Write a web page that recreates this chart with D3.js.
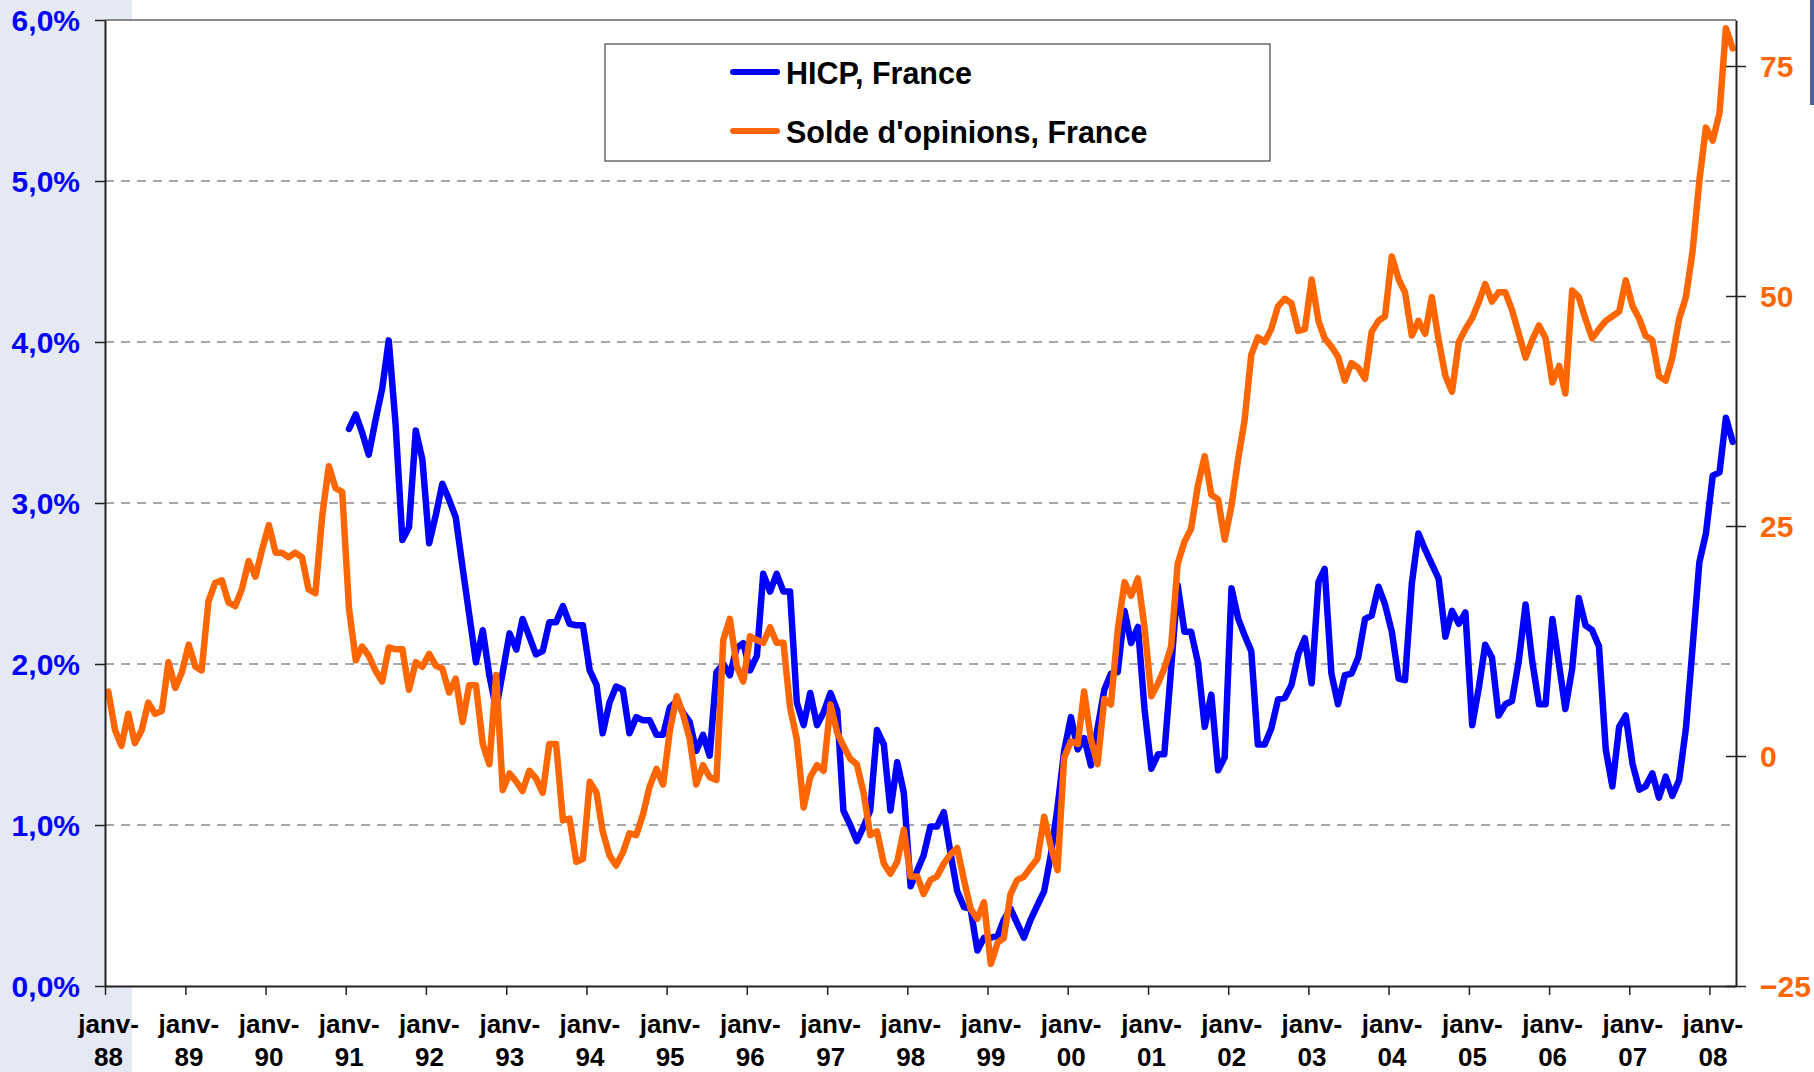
<!DOCTYPE html>
<html>
<head>
<meta charset="utf-8">
<script src="https://cdn.jsdelivr.net/npm/d3@7"></script>
<style>
  body { margin: 0; background: #fff; }
  svg { display: block; font-family: "Liberation Sans", Arial, sans-serif; }
</style>
</head>
<body>
<div id="chart"></div>
<script>
// monthly data, first month = janv-88
const years = d3.range(1988, 2009)

// solde d'opinions (right axis), janv-88 .. avr-08
const solde = [
  7.0, 2.8, 1.1, 4.6, 1.4, 2.8, 5.8, 4.6, 4.9, 10.2, 7.4, 9.1,
  12.1, 9.7, 9.3, 16.8, 18.8, 19.1, 16.7, 16.3, 18.2, 21.2, 19.5, 22.4,
  25.1, 22.1, 22.1, 21.6, 22.1, 21.6, 18.1, 17.7, 26.1, 31.5, 29.1, 28.7,
  16.0, 10.4, 11.9, 10.9, 9.3, 8.1, 11.8, 11.6, 11.6, 7.2, 10.2, 9.7,
  11.1, 9.8, 9.5, 6.9, 8.4, 3.7, 7.7, 7.7, 1.3, -0.9, 8.8, -3.7,
  -1.9, -2.8, -3.8, -1.6, -2.4, -4.0, 1.3, 1.3, -7.0, -6.8, -11.5, -11.2,
  -2.8, -4.0, -8.2, -10.8, -11.9, -10.5, -8.4, -8.6, -6.3, -3.3, -1.4, -3.1,
  2.8, 6.5, 4.6, 1.9, -3.1, -1.0, -2.3, -2.6, 12.6, 14.9, 9.8, 8.1,
  13.0, 12.6, 12.3, 14.0, 12.3, 12.3, 5.3, 1.8, -5.6, -2.3, -1.0, -1.6,
  5.6, 2.5, 1.1, -0.3, -0.9, -4.0, -8.6, -8.2, -11.7, -12.8, -11.5, -8.0,
  -13.1, -13.1, -15.0, -13.5, -13.1, -11.7, -10.7, -10.0, -13.5, -16.6, -17.7, -15.9,
  -22.6, -20.3, -19.8, -15.0, -13.5, -13.1, -12.1, -11.2, -6.6, -9.8, -12.4, -0.2,
  1.6, 1.3, 7.0, 1.8, -0.9, 6.2, 5.6, 13.7, 18.9, 17.4, 19.3, 14.0,
  6.5, 7.9, 9.5, 11.9, 20.9, 23.3, 24.7, 29.4, 32.6, 28.4, 27.9, 23.5,
  27.2, 32.4, 36.4, 43.6, 45.5, 45.0, 46.4, 48.9, 49.7, 49.2, 46.2, 46.4,
  51.8, 47.3, 45.4, 44.5, 43.4, 40.8, 42.7, 42.2, 41.0, 46.1, 47.3, 47.8,
  54.3, 51.8, 50.4, 45.7, 47.3, 45.9, 49.9, 45.2, 41.3, 39.6, 45.0, 46.4,
  47.6, 49.4, 51.3, 49.4, 50.4, 50.4, 48.5, 45.9, 43.3, 45.2, 46.8, 45.4,
  40.6, 42.4, 39.4, 50.6, 49.9, 47.5, 45.4, 46.4, 47.3, 47.8, 48.3, 51.7,
  48.9, 47.5, 45.7, 45.2, 41.3, 40.8, 43.3, 47.5, 49.9, 54.8, 62.5, 68.3,
  66.9, 69.9, 79.1, 76.9
]

// HICP France (left axis, %), janv-91 .. avr-08
const hicpStart = 36
const hicp = [
  3.46, 3.55, 3.44, 3.30, 3.51, 3.71, 4.01, 3.49, 2.77, 2.85, 3.45, 3.27,
  2.75, 2.93, 3.12, 3.02, 2.91, 2.60, 2.31, 2.01, 2.21, 1.93, 1.72, 1.95,
  2.19, 2.09, 2.28, 2.17, 2.06, 2.08, 2.26, 2.26, 2.36, 2.25, 2.24, 2.24,
  1.96, 1.87, 1.57, 1.76, 1.86, 1.84, 1.57, 1.67, 1.65, 1.65, 1.56, 1.56,
  1.73, 1.77, 1.70, 1.64, 1.46, 1.56, 1.43, 1.95, 2.00, 1.93, 2.10, 2.13,
  1.96, 2.05, 2.56, 2.45, 2.56, 2.45, 2.45, 1.76, 1.62, 1.82, 1.62, 1.70,
  1.82, 1.71, 1.09, 1.00, 0.90, 0.99, 1.09, 1.59, 1.50, 1.09, 1.39, 1.20,
  0.62, 0.72, 0.81, 0.99, 0.99, 1.08, 0.83, 0.59, 0.49, 0.48, 0.22, 0.30,
  0.30, 0.31, 0.41, 0.48, 0.39, 0.30, 0.41, 0.50, 0.59, 0.81, 1.11, 1.46,
  1.67, 1.47, 1.54, 1.37, 1.60, 1.84, 1.94, 1.95, 2.33, 2.13, 2.23, 1.72,
  1.35, 1.44, 1.44, 1.97, 2.49, 2.20, 2.20, 2.01, 1.61, 1.81, 1.34, 1.42,
  2.47, 2.28, 2.18, 2.08, 1.50, 1.50, 1.60, 1.78, 1.79, 1.87, 2.06, 2.16,
  1.88, 2.51, 2.59, 1.94, 1.75, 1.93, 1.94, 2.04, 2.28, 2.30, 2.48, 2.37,
  2.20, 1.91, 1.90, 2.50, 2.81, 2.71, 2.62, 2.53, 2.17, 2.33, 2.25, 2.32,
  1.62, 1.86, 2.12, 2.04, 1.68, 1.75, 1.77, 2.02, 2.37, 2.02, 1.75, 1.75,
  2.28, 1.99, 1.72, 1.97, 2.41, 2.24, 2.21, 2.11, 1.47, 1.24, 1.61, 1.68,
  1.38, 1.22, 1.24, 1.32, 1.17, 1.30, 1.18, 1.28, 1.60, 2.10, 2.63, 2.81,
  3.17, 3.19, 3.53, 3.38
]

const leftTicks = [0, 1, 2, 3, 4, 5, 6]
const rightTicks = [-25, 0, 25, 50, 75]
const seriesNames = ['HICP, France', "Solde d'opinions, France"]

const width = 1814, height = 1072
const plot = { left: 105, right: 1736, top: 20, bottom: 986 }
const blue = '#0000ff', orange = '#ff6600'

const svg = d3.select('#chart').append('svg')
  .attr('width', width)
  .attr('height', height)

// slide background strip
svg.append('rect')
  .attr('x', 0).attr('y', 0).attr('width', 132).attr('height', height)
  .attr('fill', '#e4e9f3')
svg.append('rect')
  .attr('x', 1810).attr('y', 0).attr('width', 4).attr('height', 105)
  .attr('fill', '#4d6493')

svg.append('rect')
  .attr('x', plot.left).attr('y', plot.top)
  .attr('width', plot.right - plot.left).attr('height', plot.bottom - plot.top)
  .attr('fill', '#fff')

const monthDate = k => new Date(1988, k, 16)

const x = d3.scaleTime()
  .domain([new Date(1988, 0, 1), new Date(2008, 4, 1)])
  .range([plot.left, plot.right])
const yLeft = d3.scaleLinear().domain([0, 6]).range([plot.bottom, plot.top])
const yRight = d3.scaleLinear().domain([-25, 80]).range([plot.bottom, plot.top])

// grid lines
svg.append('g')
  .selectAll('line')
  .data(leftTicks.filter(d => d > 0 && d < 6))
  .join('line')
    .attr('x1', plot.left).attr('x2', plot.right)
    .attr('y1', d => yLeft(d)).attr('y2', d => yLeft(d))
    .attr('stroke', '#8c8c8c')
    .attr('stroke-width', 1.5)
    .attr('stroke-dasharray', '9,7')

// top border
svg.append('line')
  .attr('x1', plot.left).attr('x2', plot.right)
  .attr('y1', plot.top).attr('y2', plot.top)
  .attr('stroke', '#888').attr('stroke-width', 2)

// series
const lineHicp = d3.line()
  .x((d, i) => x(monthDate(i + hicpStart)))
  .y(d => yLeft(d))
const lineSolde = d3.line()
  .x((d, i) => x(monthDate(i)))
  .y(d => yRight(d))

svg.append('path')
  .datum(hicp)
  .attr('d', lineHicp)
  .attr('fill', 'none')
  .attr('stroke', blue)
  .attr('stroke-width', 6.5)
  .attr('stroke-linejoin', 'round')
  .attr('stroke-linecap', 'round')

svg.append('path')
  .datum(solde)
  .attr('d', lineSolde)
  .attr('fill', 'none')
  .attr('stroke', orange)
  .attr('stroke-width', 6.5)
  .attr('stroke-linejoin', 'round')
  .attr('stroke-linecap', 'round')

// left axis
const fmtPct = d => d3.format('.1f')(d).replace('.', ',') + '%'
const gLeft = svg.append('g')
  .attr('transform', `translate(${plot.left},0)`)
  .call(d3.axisLeft(yLeft).tickValues(leftTicks).tickFormat(fmtPct)
    .tickSizeInner(10).tickSizeOuter(0).tickPadding(15))
gLeft.select('.domain').attr('stroke', '#222').attr('stroke-width', 2)
gLeft.selectAll('.tick line').attr('stroke', '#222').attr('stroke-width', 1.5)
gLeft.selectAll('.tick text')
  .attr('fill', blue)
  .style('font-size', '30px')
  .style('font-weight', 'bold')
  .attr('dy', '0.36em')

// right axis
const gRight = svg.append('g')
  .attr('transform', `translate(${plot.right},0)`)
  .call(d3.axisRight(yRight).tickValues(rightTicks)
    .tickSizeInner(10).tickSizeOuter(0).tickPadding(14))
gRight.select('.domain').attr('stroke', '#222').attr('stroke-width', 2)
gRight.selectAll('.tick line').attr('x1', -10)
  .attr('stroke', '#222').attr('stroke-width', 1.5)
gRight.selectAll('.tick text')
  .attr('fill', orange)
  .style('font-size', '30px')
  .style('font-weight', 'bold')
  .attr('dy', '0.36em')

// bottom axis
const gBottom = svg.append('g')
  .attr('transform', `translate(0,${plot.bottom})`)
  .call(d3.axisBottom(x).tickValues(years.map(y => new Date(y, 0, 1)))
    .tickFormat('').tickSizeInner(9).tickSizeOuter(0))
gBottom.select('.domain').attr('stroke', '#222').attr('stroke-width', 2)
gBottom.selectAll('.tick line').attr('stroke', '#222').attr('stroke-width', 1.5)
gBottom.selectAll('.tick').each(function (d) {
  const t = d3.select(this).append('text')
    .attr('fill', '#000')
    .attr('text-anchor', 'middle')
    .style('font-size', '26px')
    .style('font-weight', 'bold')
  t.append('tspan').attr('x', 3).attr('y', 47).text('janv-')
  t.append('tspan').attr('x', 3).attr('y', 80).text(String(d.getFullYear()).slice(2))
})

// legend
const legend = svg.append('g')
legend.append('rect')
  .attr('x', 605).attr('y', 44).attr('width', 665).attr('height', 117)
  .attr('fill', '#fff').attr('stroke', '#444').attr('stroke-width', 1.2)
const items = legend.selectAll('g.item')
  .data(seriesNames)
  .join('g')
    .attr('class', 'item')
    .attr('transform', (d, i) => `translate(0,${72 + i * 59})`)
items.append('line')
  .attr('x1', 733).attr('x2', 777)
  .attr('stroke', (d, i) => i === 0 ? blue : orange)
  .attr('stroke-width', 6)
  .attr('stroke-linecap', 'round')
items.append('text')
  .attr('x', 786).attr('y', 12)
  .style('font-size', '30.5px')
  .style('font-weight', 'bold')
  .text(d => d)
</script>
</body>
</html>
